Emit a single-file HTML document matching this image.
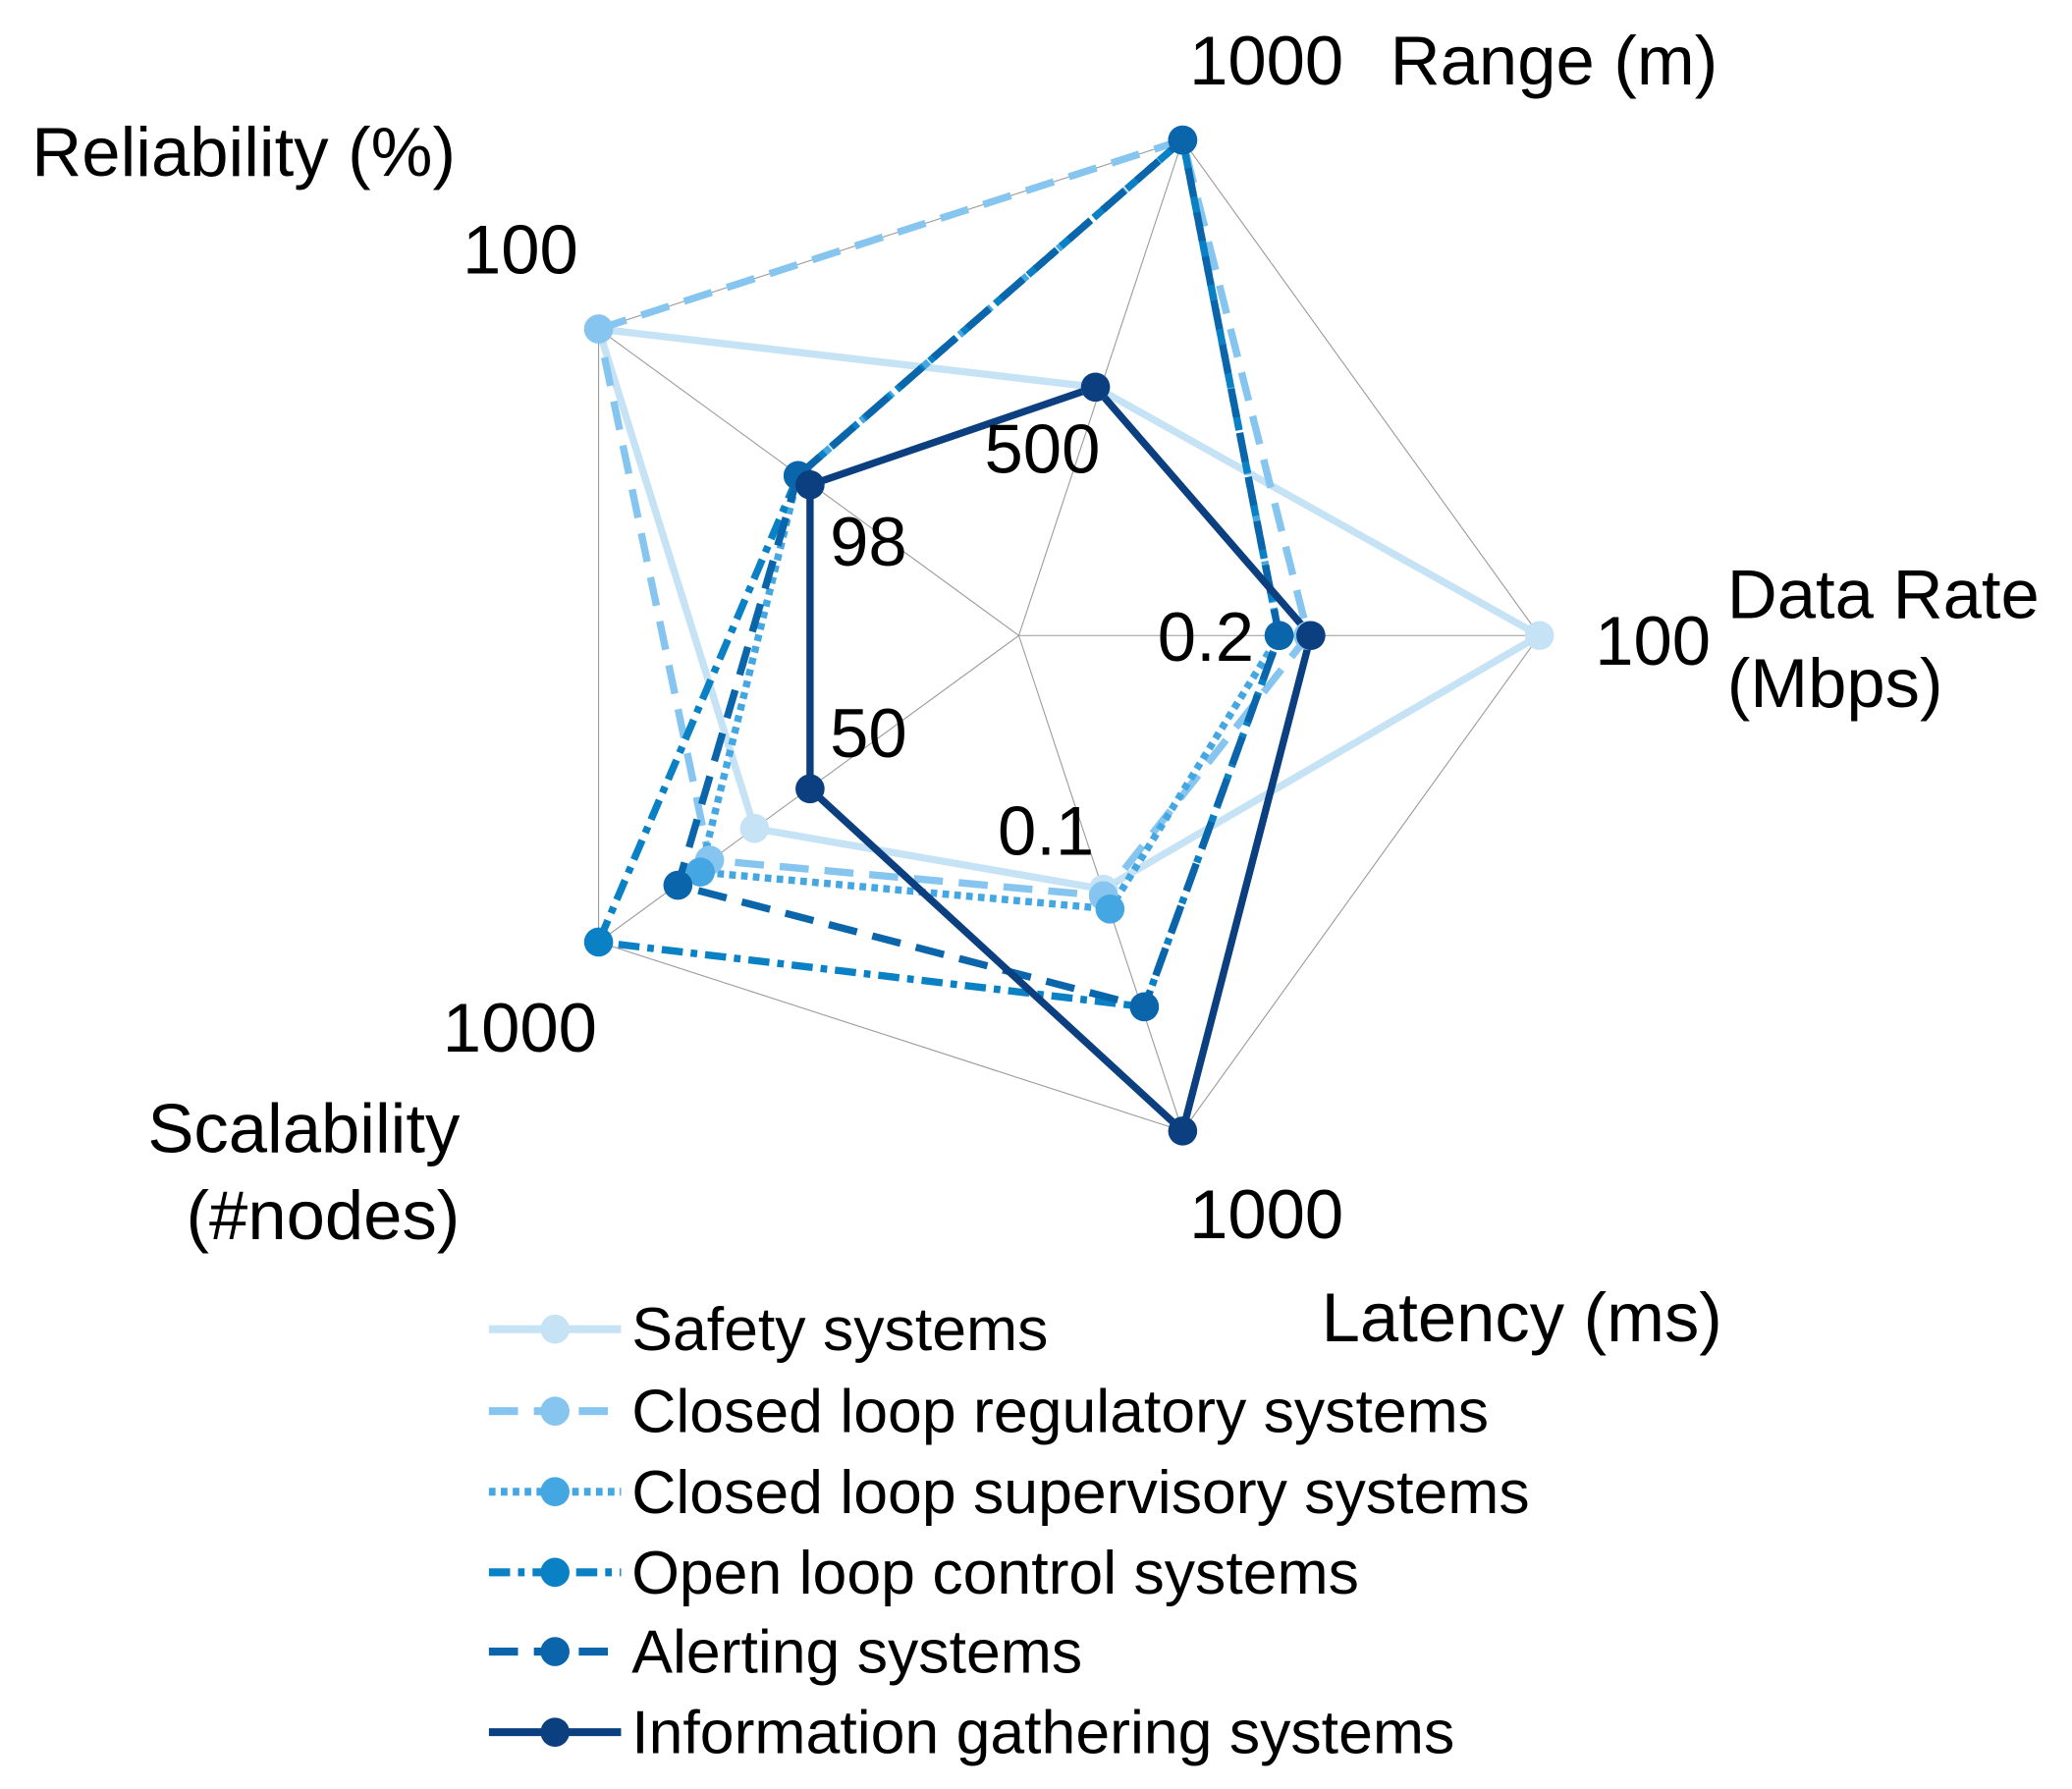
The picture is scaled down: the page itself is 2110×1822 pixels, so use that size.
<!DOCTYPE html>
<html><head><style>html,body{margin:0;padding:0;background:#fff}svg{display:block}</style></head>
<body>
<svg width="2110" height="1822" viewBox="0 0 1568 1354" preserveAspectRatio="none" xmlns="http://www.w3.org/2000/svg" font-family="Liberation Sans, Arial, sans-serif">
<g stroke="#999" stroke-width="0.8" fill="none">
<polygon points="895,106 1165,481 895,856 453,713 453,249"/>
<line x1="771" y1="481" x2="895" y2="106"/><line x1="771" y1="481" x2="1165" y2="481"/>
<line x1="771" y1="481" x2="895" y2="856"/><line x1="771" y1="481" x2="453" y2="713"/>
<line x1="771" y1="481" x2="453" y2="249"/>
</g>
<g fill="none" stroke-width="5.5" stroke-linejoin="round">
<polygon stroke="#c6e3f6" points="453,249 829,293 1165,481 835,673 571,627"/>
<polygon stroke="#86c5ef" stroke-dasharray="22,12" points="453,249 895,106 990,481 835,678 537,651"/>
<polygon stroke="#45a7e2" stroke-dasharray="5,4" points="604,360 895,106 968,481 840,688 530,660"/>
<polygon stroke="#0a81c5" stroke-dasharray="16,6,5,6" points="604,360 895,106 968,481 866,762 453,713"/>
<polygon stroke="#0b65ab" stroke-dasharray="22,12" points="604,360 895,106 968,481 866,762 513,670"/>
<polygon stroke="#0b3f80" points="613,367 829,293 992,481 895,856 613,597"/>
</g>
<g>
<g fill="#c6e3f6"><circle cx="453" cy="249" r="11"/><circle cx="829" cy="293" r="11"/><circle cx="1165" cy="481" r="11"/><circle cx="835" cy="673" r="11"/><circle cx="571" cy="627" r="11"/></g>
<g fill="#86c5ef"><circle cx="453" cy="249" r="11"/><circle cx="895" cy="106" r="11"/><circle cx="990" cy="481" r="11"/><circle cx="835" cy="678" r="11"/><circle cx="537" cy="651" r="11"/></g>
<g fill="#45a7e2"><circle cx="604" cy="360" r="11"/><circle cx="895" cy="106" r="11"/><circle cx="968" cy="481" r="11"/><circle cx="840" cy="688" r="11"/><circle cx="530" cy="660" r="11"/></g>
<g fill="#0a81c5"><circle cx="604" cy="360" r="11"/><circle cx="895" cy="106" r="11"/><circle cx="968" cy="481" r="11"/><circle cx="866" cy="762" r="11"/><circle cx="453" cy="713" r="11"/></g>
<g fill="#0b65ab"><circle cx="604" cy="360" r="11"/><circle cx="895" cy="106" r="11"/><circle cx="968" cy="481" r="11"/><circle cx="866" cy="762" r="11"/><circle cx="513" cy="670" r="11"/></g>
<g fill="#0b3f80"><circle cx="613" cy="367" r="11"/><circle cx="829" cy="293" r="11"/><circle cx="992" cy="481" r="11"/><circle cx="895" cy="856" r="11"/><circle cx="613" cy="597" r="11"/></g>
</g>
<g fill="#000" font-size="52.5">
<text x="900" y="64">1000</text><text x="1052" y="64">Range (m)</text>
<text x="24" y="133">Reliability (%)</text>
<text x="350" y="207">100</text>
<text x="745" y="358">500</text>
<text x="628" y="428">98</text>
<text x="628" y="573">50</text>
<text x="876" y="500">0.2</text>
<text x="755" y="647">0.1</text>
<text x="1207" y="503">100</text>
<text x="1307" y="468">Data Rate</text><text x="1307" y="535">(Mbps)</text>
<text x="335" y="796">1000</text>
<text x="348" y="872" text-anchor="end">Scalability</text><text x="348" y="938" text-anchor="end">(#nodes)</text>
<text x="900" y="937">1000</text>
<text x="1000" y="1015">Latency (ms)</text>
</g>
<g font-size="46.5" fill="#000">
<line x1="370" y1="1006" x2="470" y2="1006" stroke="#c6e3f6" stroke-width="6"/><circle cx="420" cy="1006" r="11" fill="#c6e3f6"/><text x="478" y="1022">Safety systems</text>
<line x1="370" y1="1068" x2="470" y2="1068" stroke="#86c5ef" stroke-width="6" stroke-dasharray="22,12"/><circle cx="420" cy="1068" r="11" fill="#86c5ef"/><text x="478" y="1084">Closed loop regulatory systems</text>
<line x1="370" y1="1129" x2="470" y2="1129" stroke="#45a7e2" stroke-width="6" stroke-dasharray="5,4"/><circle cx="420" cy="1129" r="11" fill="#45a7e2"/><text x="478" y="1145">Closed loop supervisory systems</text>
<line x1="370" y1="1190" x2="470" y2="1190" stroke="#0a81c5" stroke-width="6" stroke-dasharray="16,6,5,6"/><circle cx="420" cy="1190" r="11" fill="#0a81c5"/><text x="478" y="1206">Open loop control systems</text>
<line x1="370" y1="1250" x2="470" y2="1250" stroke="#0b65ab" stroke-width="6" stroke-dasharray="22,12"/><circle cx="420" cy="1250" r="11" fill="#0b65ab"/><text x="478" y="1266">Alerting systems</text>
<line x1="370" y1="1311" x2="470" y2="1311" stroke="#0b3f80" stroke-width="6"/><circle cx="420" cy="1311" r="11" fill="#0b3f80"/><text x="478" y="1327">Information gathering systems</text>
</g>
</svg>
</body></html>
